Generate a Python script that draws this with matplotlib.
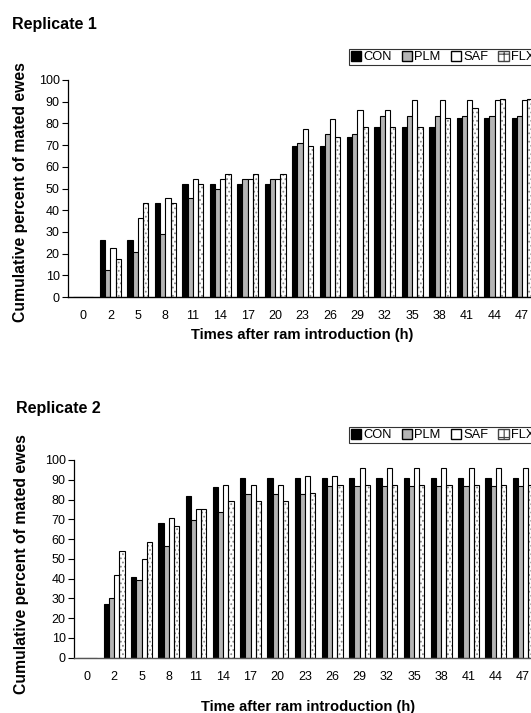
import matplotlib
matplotlib.use("Agg")
import matplotlib.pyplot as plt
from matplotlib.patches import Patch
import numpy as np

plt.rcParams['font.family'] = ['Liberation Sans', 'DejaVu Sans']
plt.rcParams['hatch.linewidth'] = 0.8

hours = ["0", "2", "5", "8", "11", "14", "17", "20", "23", "26", "29", "32", "35", "38", "41", "44", "47"]
groups = ["CON", "PLM", "SAF", "FLX"]

# Replicate 1
r1_con = [0, 26.1, 26.1, 43.5, 52.2, 52.2, 52.2, 52.2, 69.6, 69.6, 73.9, 78.3, 78.3, 78.3, 82.6, 82.6, 82.6]
r1_plm = [0, 12.5, 20.8, 29.2, 45.8, 50.0, 54.2, 54.2, 70.8, 75.0, 75.0, 83.3, 83.3, 83.3, 83.3, 83.3, 83.3]
r1_saf = [0, 22.7, 36.4, 45.5, 54.5, 54.5, 54.5, 54.5, 77.3, 81.8, 86.4, 86.4, 90.9, 90.9, 90.9, 90.9, 90.9]
r1_flx = [0, 17.4, 43.5, 43.5, 52.2, 56.5, 56.5, 56.5, 69.6, 73.9, 78.3, 78.3, 78.3, 82.6, 87.0, 91.3, 91.3]

# Replicate 2
r2_con = [0, 27.3, 40.9, 68.2, 81.8, 86.4, 90.9, 90.9, 90.9, 90.9, 90.9, 90.9, 90.9, 90.9, 90.9, 90.9, 90.9]
r2_plm = [0, 30.4, 39.1, 56.5, 69.6, 73.9, 82.6, 82.6, 82.6, 87.0, 87.0, 87.0, 87.0, 87.0, 87.0, 87.0, 87.0]
r2_saf = [0, 41.7, 50.0, 70.8, 75.0, 87.5, 87.5, 87.5, 91.7, 91.7, 95.8, 95.8, 95.8, 95.8, 95.8, 95.8, 95.8]
r2_flx = [0, 54.2, 58.3, 66.7, 75.0, 79.2, 79.2, 79.2, 83.3, 87.5, 87.5, 87.5, 87.5, 87.5, 87.5, 87.5, 87.5]

W, H = 531, 713
fig = plt.figure(figsize=(W / 100, H / 100), dpi=100)

def fx(px):
    return px / W

def fy(py):
    return 1 - py / H

fills = {"CON": "black", "PLM": "#b4b4b4", "SAF": "white", "FLX": "white"}
bw = 0.19
offs = [-1.5, -0.5, 0.5, 1.5]


def draw(ax, series, xlim_left, base_color, pad):
    x = np.arange(len(hours))
    for name, vals, o in zip(groups, series, offs):
        xs = x + o * bw
        if name == "FLX":
            ax.bar(xs, vals, bw, color="white", edgecolor="#8a8a8a", hatch="....",
                   linewidth=0, zorder=2)
            ax.bar(xs, vals, bw, fill=False, edgecolor="black", linewidth=0.8, zorder=3)
        else:
            ax.bar(xs, vals, bw, color=fills[name], edgecolor="black", linewidth=0.8, zorder=3)
    ax.set_xlim(xlim_left, 16.5)
    ax.set_ylim(0, 100)
    ax.set_yticks(range(0, 101, 10))
    ax.set_xticks(x)
    ax.set_xticklabels(hours)
    for s in ["top", "right"]:
        ax.spines[s].set_visible(False)
    ax.spines["left"].set_linewidth(0.9)
    ax.spines["bottom"].set_linewidth(1.0)
    ax.spines["bottom"].set_color(base_color)
    ax.spines["bottom"].set_zorder(4)
    ax.tick_params(axis="y", direction="out", length=4, width=0.8, pad=2, labelsize=9)
    ax.tick_params(axis="x", length=0, pad=pad, labelsize=9)


def legend_handles():
    return [
        Patch(facecolor="black", edgecolor="black", label="CON"),
        Patch(facecolor="#b4b4b4", edgecolor="black", label="PLM"),
        Patch(facecolor="white", edgecolor="black", label="SAF"),
        Patch(facecolor="white", edgecolor="#444444", hatch="++", label="FLX"),
    ]

# Top chart
ax1 = fig.add_axes([fx(68), fy(297), (83 + 16.5 * 27.44 - 68) / W, 217 / H])
draw(ax1, [r1_con, r1_plm, r1_saf, r1_flx], -15 / 27.44, "black", 9.5)

# Bottom chart
ax2 = fig.add_axes([fx(74), fy(657.7), (87 + 16.5 * 27.25 - 74) / W, 197.7 / H])
draw(ax2, [r2_con, r2_plm, r2_saf, r2_flx], -13 / 27.25, "#555555", 9.5)

for ytop in (49, 427):
    leg = fig.legend(handles=legend_handles(), loc="upper left",
                     bbox_to_anchor=(fx(349), fy(ytop)), ncol=4, fontsize=9.3,
                     frameon=True, fancybox=False, handlelength=0.8, handleheight=0.8,
                     handletextpad=0.15, columnspacing=0.8, borderpad=0.15,
                     borderaxespad=0)
    leg.get_frame().set_edgecolor("black")
    leg.get_frame().set_linewidth(0.8)

fig.text(fx(12), fy(29), "Replicate 1", fontsize=11.5, fontweight="bold", va="baseline", ha="left")
fig.text(fx(16), fy(413), "Replicate 2", fontsize=11.5, fontweight="bold", va="baseline", ha="left")

ylab = "Cumulative percent of mated ewes"
fig.text(fx(21), fy(192), ylab, rotation=90, fontsize=11.3, fontweight="bold", va="center", ha="center")
fig.text(fx(22), fy(564), ylab, rotation=90, fontsize=11.3, fontweight="bold", va="center", ha="center")

fig.text(fx(302), fy(335), "Times after ram introduction (h)", fontsize=10.6, fontweight="bold",
         va="center", ha="center")
fig.text(fx(308), fy(707), "Time after ram introduction (h)", fontsize=10.6, fontweight="bold",
         va="center", ha="center")

fig.savefig("out.png", dpi=100)
